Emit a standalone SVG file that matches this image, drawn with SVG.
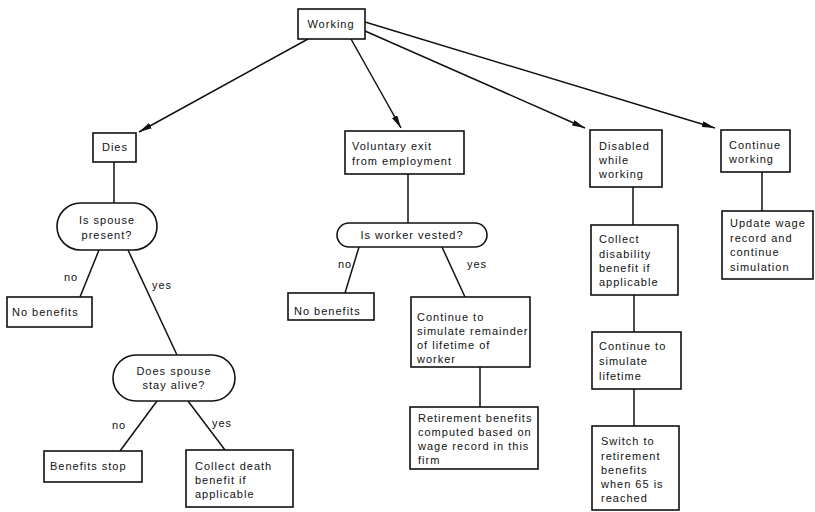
<svg xmlns="http://www.w3.org/2000/svg" width="815" height="512" viewBox="0 0 815 512">
<defs>
<style>
.b{fill:#fff;stroke:#111;stroke-width:1.6}
.c{fill:none;stroke:#111;stroke-width:1.5}
text{font-family:"Liberation Sans",Arial,sans-serif;font-size:11px;fill:#111;letter-spacing:1px}
.m{text-anchor:middle}
</style>
<marker id="ah" markerUnits="userSpaceOnUse" viewBox="0 0 13 6" refX="13" refY="3" markerWidth="13" markerHeight="6" orient="auto">
<path d="M0,0 L13,3 L0,6 z" fill="#111"/>
</marker>
</defs>
<g id="connectors">
<line class="c" x1="308" y1="39" x2="139" y2="132" marker-end="url(#ah)"/>
<line class="c" x1="351" y1="39" x2="401" y2="128" marker-end="url(#ah)"/>
<line class="c" x1="365" y1="31" x2="585" y2="128" marker-end="url(#ah)"/>
<line class="c" x1="365" y1="22" x2="715" y2="128" marker-end="url(#ah)"/>
<line class="c" x1="114" y1="162" x2="114" y2="203"/>
<line class="c" x1="99" y1="250" x2="80" y2="297"/>
<line class="c" x1="128" y1="250" x2="177" y2="355"/>
<line class="c" x1="157" y1="401" x2="120" y2="451"/>
<line class="c" x1="188" y1="401" x2="225" y2="450"/>
<line class="c" x1="408" y1="174" x2="408" y2="223"/>
<line class="c" x1="359" y1="247" x2="345" y2="293"/>
<line class="c" x1="442" y1="247" x2="465" y2="297"/>
<line class="c" x1="480" y1="367" x2="480" y2="407"/>
<line class="c" x1="633" y1="187" x2="633" y2="225"/>
<line class="c" x1="634" y1="295" x2="634" y2="332"/>
<line class="c" x1="634" y1="389" x2="634" y2="426"/>
<line class="c" x1="762" y1="172" x2="762" y2="211"/>
</g>
<g id="working"><rect class="b" x="298" y="9" width="67" height="30"/><text class="m" x="331" y="28">Working</text></g>
<g id="dies"><rect class="b" x="93" y="133" width="43" height="29"/><text class="m" x="115" y="151">Dies</text></g>
<g id="voluntary"><rect class="b" x="345" y="131" width="119" height="43"/><text x="352" y="150">Voluntary exit</text><text x="352" y="165">from employment</text></g>
<g id="disabled"><rect class="b" x="590" y="130" width="72" height="57"/><text x="599" y="150">Disabled</text><text x="599" y="164">while</text><text x="599" y="178">working</text></g>
<g id="continue-working"><rect class="b" x="721" y="130" width="69" height="42"/><text x="729" y="149">Continue</text><text x="729" y="163">working</text></g>
<g id="spouse-present"><rect class="b" x="57" y="203" width="100" height="47" rx="23.5"/><text class="m" x="107" y="224">Is spouse</text><text class="m" x="107" y="239">present?</text></g>
<text x="64" y="281">no</text>
<text x="152" y="289">yes</text>
<g id="no-benefits-1"><rect class="b" x="7" y="297" width="85" height="30"/><text x="12" y="316">No benefits</text></g>
<g id="spouse-alive"><rect class="b" x="113" y="355" width="122" height="46" rx="23"/><text class="m" x="174" y="375">Does spouse</text><text class="m" x="174" y="389">stay alive?</text></g>
<text x="112" y="429">no</text>
<text x="212" y="427">yes</text>
<g id="benefits-stop"><rect class="b" x="44" y="451" width="98" height="31"/><text x="50" y="470">Benefits stop</text></g>
<g id="collect-death"><rect class="b" x="186" y="450" width="107" height="57"/><text x="195" y="470">Collect death</text><text x="195" y="484">benefit if</text><text x="195" y="498">applicable</text></g>
<g id="vested"><rect class="b" x="337" y="223" width="150" height="24" rx="12"/><text class="m" x="412" y="239">Is worker vested?</text></g>
<text x="338" y="268">no</text>
<text x="467" y="268">yes</text>
<g id="no-benefits-2"><rect class="b" x="288" y="293" width="86" height="27"/><text x="294" y="315">No benefits</text></g>
<g id="continue-simulate"><rect class="b" x="411" y="297" width="119" height="70"/><text x="417" y="321">Continue to</text><text x="417" y="335">simulate remainder</text><text x="417" y="349">of lifetime of</text><text x="417" y="363">worker</text></g>
<g id="retirement"><rect class="b" x="410" y="407" width="128" height="62"/><text x="418" y="422">Retirement benefits</text><text x="418" y="436">computed based on</text><text x="418" y="450">wage record in this</text><text x="418" y="464">firm</text></g>
<g id="collect-disability"><rect class="b" x="591" y="225" width="87" height="70"/><text x="599" y="243">Collect</text><text x="599" y="258">disability</text><text x="599" y="272">benefit if</text><text x="599" y="286">applicable</text></g>
<g id="simulate-lifetime"><rect class="b" x="592" y="332" width="89" height="57"/><text x="599" y="350">Continue to</text><text x="599" y="365">simulate</text><text x="599" y="380">lifetime</text></g>
<g id="switch"><rect class="b" x="592" y="426" width="87" height="84"/><text x="601" y="445">Switch to</text><text x="601" y="460">retirement</text><text x="601" y="474">benefits</text><text x="601" y="488">when 65 is</text><text x="601" y="502">reached</text></g>
<g id="update"><rect class="b" x="722" y="211" width="91" height="68"/><text x="730" y="227">Update wage</text><text x="730" y="242">record and</text><text x="730" y="256">continue</text><text x="730" y="271">simulation</text></g>
</svg>
